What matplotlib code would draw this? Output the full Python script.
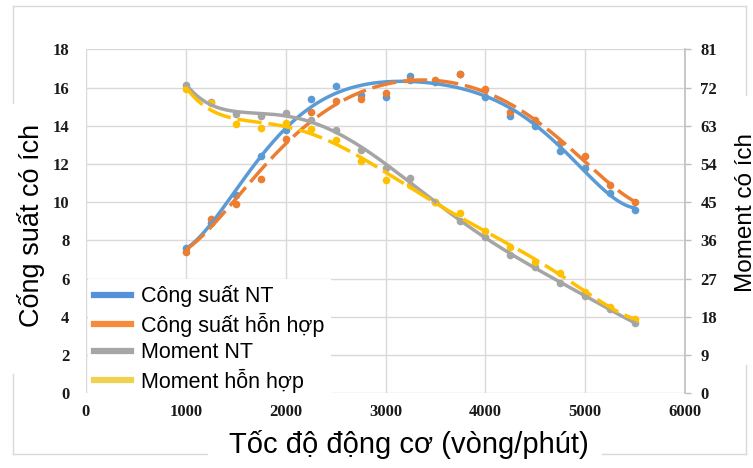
import numpy as np
import matplotlib
matplotlib.use("Agg")
import matplotlib.pyplot as plt
from matplotlib.lines import Line2D

# toc do dong co (vong/phut)
rpm = [1000, 1250, 1500, 1750, 2000, 2250, 2500, 2750, 3000, 3250,
       3500, 3750, 4000, 4250, 4500, 4750, 5000, 5250, 5500]

# cong suat (truc trai)
cs_nt = [7.6, 8.9, 10.4, 12.4, 13.8, 15.4, 16.1, 15.6, 15.5, 16.6,
         16.3, 16.7, 15.5, 14.5, 14.0, 12.7, 11.8, 10.5, 9.6]
cs_hh = [7.4, 9.1, 9.9, 11.2, 13.3, 14.7, 15.3, 15.4, 15.7, 16.4,
         16.4, 16.7, 15.9, 14.7, 14.3, 13.1, 12.4, 10.9, 10.0]

# moment (truc phai)
mo_nt = [72.6, 68.7, 65.7, 65.2, 66.1, 64.3, 61.9, 57.2, 53.1, 50.7,
         45.1, 40.5, 36.8, 32.6, 29.7, 25.9, 23.0, 19.8, 16.5]
mo_hh = [71.6, 68.4, 63.4, 62.4, 63.6, 62.2, 59.7, 54.6, 50.3, 49.0,
         45.0, 42.4, 38.1, 34.5, 31.0, 28.3, 23.9, 20.4, 17.4]

labels = ["Công suất NT", "Công suất hỗn hợp", "Moment NT", "Moment hỗn hợp"]
xticks = [0, 1000, 2000, 3000, 4000, 5000, 6000]
yticks_l = [0, 2, 4, 6, 8, 10, 12, 14, 16, 18]
yticks_r = [0, 9, 18, 27, 36, 45, 54, 63, 72, 81]

c_blue, c_orange, c_gray, c_yellow = "#5B9BD5", "#ED7D31", "#A5A5A5", "#FFC000"
grid_c = "#d9d9d9"

W, H = 753, 468
fig = plt.figure(figsize=(W / 100, H / 100), dpi=100)
fig.patch.set_facecolor("white")

ax = fig.add_axes([86 / W, 1 - 393.3 / H, (685 - 86) / W, (393.3 - 49.3) / H])
ax2 = ax.twinx()

xs = np.linspace(rpm[0], rpm[-1], 300)


def trend(y, deg=6):
    # duong xu huong da thuc (nhu trendline cua Excel)
    xk = np.array(rpm) / 1000.0
    p = np.polyfit(xk, y, deg)
    return np.polyval(p, xs / 1000.0)


lw = 2.5
ms = 5.5
ax.plot(rpm, cs_nt, "o", color=c_blue, ms=ms, mec="none")
ax.plot(rpm, cs_hh, "o", color=c_orange, ms=ms, mec="none")
ax.plot(xs, trend(cs_nt), "-", color=c_blue, lw=lw, solid_capstyle="round")
ax.plot(xs, trend(cs_hh), "-", color=c_orange, lw=lw, dashes=(7, 2))

ax2.plot(rpm, mo_nt, "o", color=c_gray, ms=ms, mec="none")
ax2.plot(rpm, mo_hh, "o", color=c_yellow, ms=ms, mec="none")
ax2.plot(xs, trend(mo_nt), "-", color=c_gray, lw=lw, solid_capstyle="round")
ax2.plot(xs, trend(mo_hh), "-", color=c_yellow, lw=lw, dashes=(7, 2))

ax.set_xlim(0, 6000)
ax.set_ylim(0, 18)
ax2.set_ylim(0, 81)
ax.set_xticks(xticks)
ax.set_yticks(yticks_l)
ax2.set_yticks(yticks_r)

ax.grid(True, color=grid_c, lw=1)
ax.set_axisbelow(True)

for a in (ax, ax2):
    for s in a.spines.values():
        s.set_visible(False)
ax2.spines["right"].set_visible(True)
ax2.spines["right"].set_color("#bfbfbf")
ax2.spines["right"].set_linewidth(1.2)

ax.tick_params(axis="x", length=0, pad=8)
ax.tick_params(axis="y", length=0, pad=12)
ax2.tick_params(axis="y", length=4, width=1, color="#bfbfbf", pad=7)
for t in ax.get_xticklabels() + ax.get_yticklabels() + ax2.get_yticklabels():
    t.set_fontfamily("Liberation Serif")
    t.set_fontweight("bold")
    t.set_fontsize(12)
    t.set_color("#1a1a1a")

# duong vien ngoai cua bieu do (co khoang trong sau nhan truc)
bx0, bx1, by0, by1 = 12.7 / W, 746 / W, 1 - 454 / H, 1 - 6 / H
segs = [
    ([bx0, bx1], [by1, by1]),
    ([bx0, bx0], [by1, 1 - 103 / H]),
    ([bx0, bx0], [1 - 374 / H, by0]),
    ([bx1, bx1], [by1, 1 - 95 / H]),
    ([bx1, bx1], [1 - 365 / H, by0]),
    ([bx0, 207 / W], [by0, by0]),
    ([602 / W, bx1], [by0, by0]),
]
for sx, sy in segs:
    fig.add_artist(Line2D(sx, sy, transform=fig.transFigure, color=grid_c, lw=1))

lab_font = "Liberation Sans"
fig.text(409 / W, 1 - 453 / H, "Tốc độ động cơ (vòng/phút)", family=lab_font,
         size=21, ha="center", va="baseline")
fig.text(31 / W, 1 - 225 / H, "Cống suất có ích", family=lab_font, size=19.5,
         rotation=90, ha="center", va="center")
fig.text(746 / W, 1 - 212 / H, "Moment có ích", family=lab_font, size=17.5,
         rotation=90, ha="center", va="center")

handles = [Line2D([], [], color=c, lw=4.5) for c in
           ["#5590DA", "#F78B3A", "#A6A6A6", "#EFD24F"]]
leg = ax2.legend(handles, labels, loc="upper left",
                 bbox_to_anchor=(88 / W, 1 - 279 / H), bbox_transform=fig.transFigure,
                 prop=dict(family=lab_font, size=15.5), frameon=True, fancybox=False,
                 handlelength=1.7, handletextpad=0.45, labelspacing=0.25,
                 borderpad=0.3, borderaxespad=0)
leg.get_frame().set_facecolor("white")
leg.get_frame().set_edgecolor("none")
leg.get_frame().set_alpha(1)

fig.savefig("out.png", dpi=100)
